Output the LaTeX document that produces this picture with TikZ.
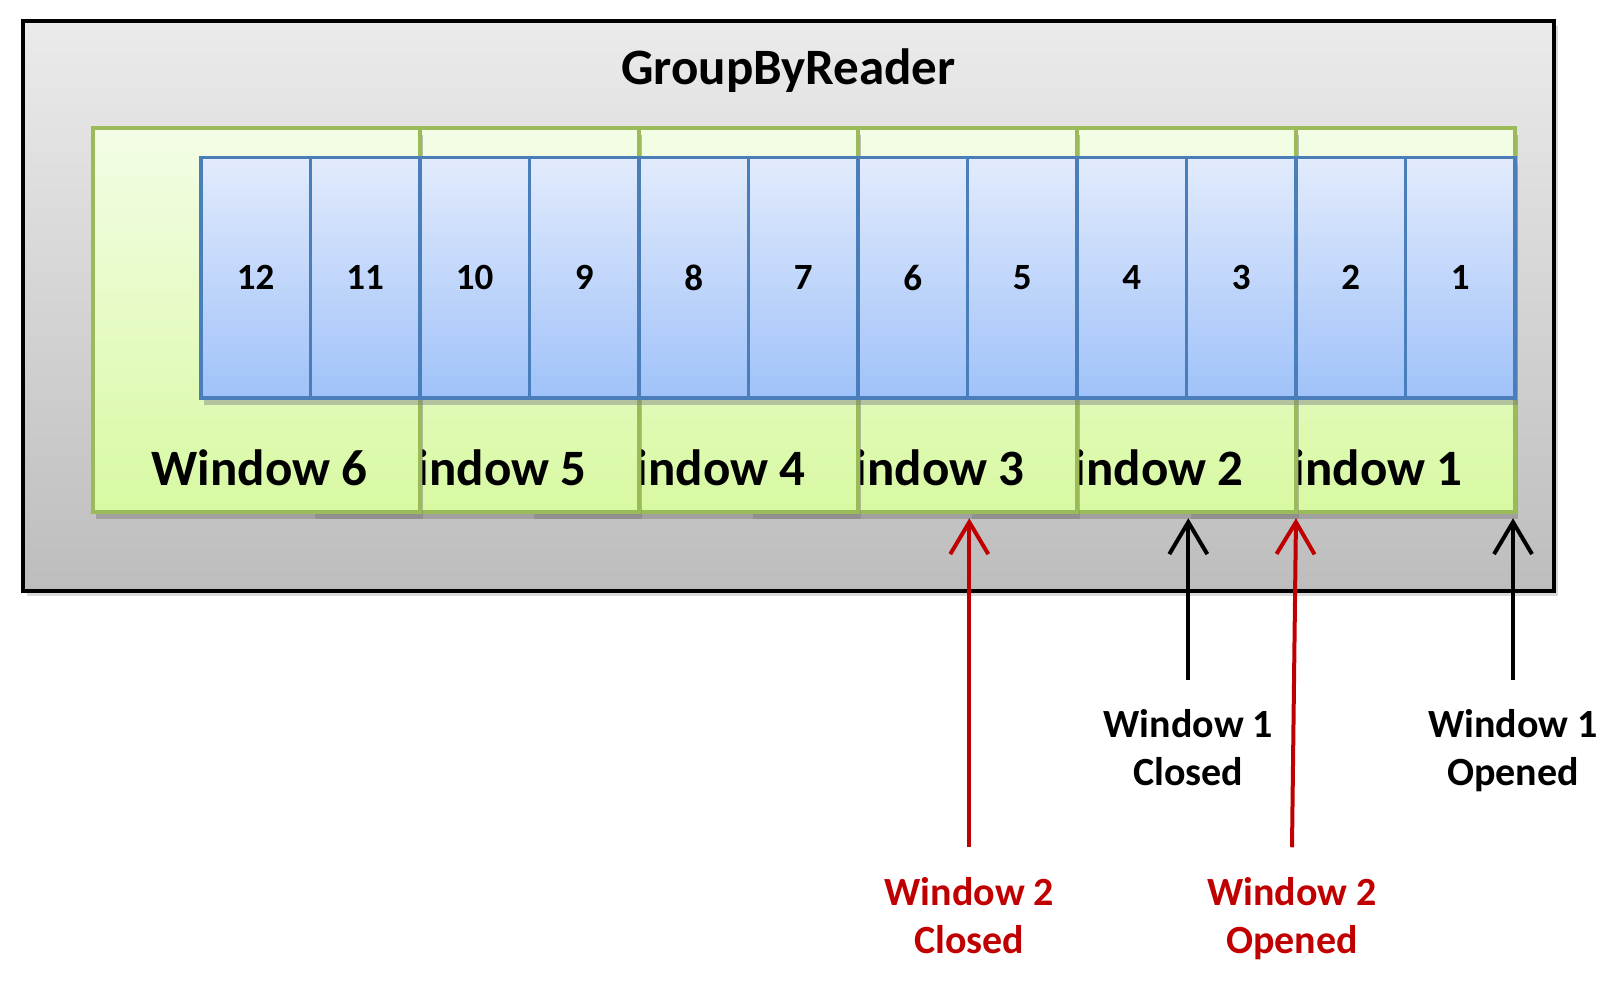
\documentclass[tikz,border=0pt]{standalone}
\usepackage{fontspec}
\setmainfont{Carlito}
\usetikzlibrary{arrows.meta,shadows}
\definecolor{outtop}{HTML}{EBEBEB}
\definecolor{outbot}{HTML}{BDBDBD}
\definecolor{wintop}{HTML}{F3FDE6}
\definecolor{winbot}{HTML}{D8F9A2}
\definecolor{winborder}{HTML}{9BBB59}
\definecolor{celltop}{HTML}{E2EBFC}
\definecolor{cellbot}{HTML}{A0C2F9}
\definecolor{cellborder}{HTML}{4A7EBB}
\definecolor{redtext}{HTML}{C00000}
\newcommand\pxu{0.5153}
\begin{document}
\begin{tikzpicture}[x=0.5153pt,y=-0.5153pt,
  outerbox/.style={draw=black, line width=2pt, top color=outtop, bottom color=outbot,
    drop shadow={shadow xshift=2pt,shadow yshift=-2.5pt,opacity=0.3},
    inner sep=0pt, outer sep=0pt, minimum width=\pxu*1486pt, minimum height=\pxu*553pt, anchor=north west},
  winbox/.style={draw=winborder, line width=1.9pt, top color=wintop, bottom color=winbot,
    drop shadow={shadow xshift=1.5pt,shadow yshift=-3.5pt,opacity=0.5},
    inner sep=0pt, outer sep=0pt, minimum width=\pxu*317pt, minimum height=\pxu*373pt, anchor=north east},
  winlabel/.style={inner sep=0pt, font=\fontsize{25.5}{30}\selectfont\bfseries},
  cellbox/.style={draw=cellborder, line width=1.8pt, top color=celltop, bottom color=cellbot,
    drop shadow={shadow xshift=1.5pt,shadow yshift=-3.5pt,opacity=0.45},
    inner sep=0pt, outer sep=0pt, minimum width=\pxu*106.25pt, minimum height=\pxu*233pt,
    font=\fontsize{18.5}{22}\selectfont\bfseries},
  titlelab/.style={inner sep=0pt, font=\fontsize{25.5}{30}\selectfont\bfseries},
  blab/.style={inner sep=0pt, anchor=north, align=center, font=\fontsize{20}{24.2}\selectfont\bfseries},
  rlab/.style={blab, text=redtext},
  barrow/.style={draw=black, line width=2pt, -{Straight Barb[length=16pt,width=19pt,line width=2pt]}},
  rarrow/.style={barrow, draw=redtext}
]
\useasboundingbox (0,0) rectangle (1568,956);
\node[outerbox] (outer) at (22,20) {};
\coordinate (yt) at (0,69);
\node[titlelab] (title) at (outer.north |- yt) {GroupByReader};
\coordinate (yl) at (0,454);
\foreach \i in {1,...,6} {
  \node[winbox] (w\i) at ({1470-(\i-1)*212.5},124) {};
  \node[winlabel] (l\i) at ([xshift=1.5pt]w\i.center |- yl) {Window \i};
}
\foreach \i in {12,11,...,1} {
  \node[cellbox] (c\i) at ({1470-(\i-0.5)*106.25},269.5) {\i};
}
\coordinate (yb) at (0,688);
\coordinate (yr) at (0,851);
\node[blab] (w1o) at ([xshift=-1pt]w1.south east |- yb) {Window 1\\Opened};
\node[blab] (w1c) at (w1.south west |- yb) {Window 1\\Closed};
\node[rlab] (w2o) at ([xshift=-2pt]w2.south east |- yr) {Window 2\\Opened};
\node[rlab] (w2c) at (w2.south west |- yr) {Window 2\\Closed};
\draw[barrow] ([yshift=14.4pt]w1o.north) -- ([yshift=-3pt,xshift=-1pt]w1.south east);
\draw[barrow] ([yshift=14.4pt]w1c.north) -- ([yshift=-3pt]w1.south west);
\draw[rarrow] ([yshift=14.9pt]w2o.north) -- ([yshift=-3pt]w2.south east);
\draw[rarrow] ([yshift=14.9pt]w2c.north) -- ([yshift=-3pt]w2.south west);
\end{tikzpicture}
\end{document}
